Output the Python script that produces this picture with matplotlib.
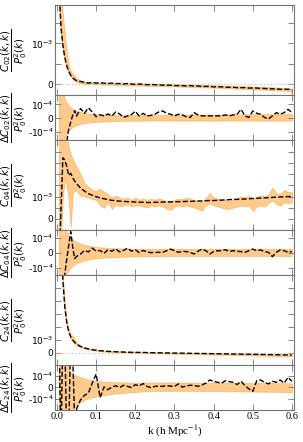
import numpy as np
import matplotlib
matplotlib.use('Agg')
import matplotlib.pyplot as plt

# k grid for the measured (dashed) curves and the noisy C04 band
k = [0.005, 0.01, 0.015, 0.02, 0.025, 0.03, 0.035, 0.04, 0.045, 0.05,
     0.06, 0.07, 0.08, 0.09, 0.10, 0.11, 0.12, 0.13, 0.14, 0.15,
     0.16, 0.17, 0.18, 0.19, 0.20, 0.21, 0.22, 0.23, 0.24, 0.25,
     0.26, 0.27, 0.28, 0.29, 0.30, 0.31, 0.32, 0.33, 0.34, 0.35,
     0.36, 0.37, 0.38, 0.39, 0.40, 0.41, 0.42, 0.43, 0.44, 0.45,
     0.46, 0.47, 0.48, 0.49, 0.50, 0.51, 0.52, 0.53, 0.54, 0.55,
     0.56, 0.57, 0.58, 0.59, 0.60]

# coarser k grid for the smooth prediction bands
kb = [0.005, 0.01, 0.015, 0.02, 0.025, 0.03, 0.035, 0.04, 0.045, 0.05,
      0.06, 0.07, 0.08, 0.09, 0.1, 0.12, 0.14, 0.16, 0.2, 0.25,
      0.3, 0.35, 0.4, 0.45, 0.5, 0.55, 0.6]

# ---- C02 (units 1e-3) ----
c02 = [2.4, 1.4, 0.95, 0.65, 0.45, 0.32, 0.22, 0.16, 0.12, 0.09,
       0.07, 0.05, 0.03, 0.05, 0.03, 0.04, 0.03, 0.02, 0.03, 0.02,
       0.02, 0.01, 0.02, 0.01, 0.0, 0.01, 0.0, -0.01, 0.0, -0.01,
       -0.01, -0.02, -0.02, -0.02, -0.03, -0.03, -0.03, -0.04, -0.03, -0.04,
       -0.04, -0.05, -0.05, -0.05, -0.06, -0.06, -0.06, -0.07, -0.07, -0.07,
       -0.08, -0.08, -0.08, -0.09, -0.09, -0.09, -0.1, -0.1, -0.11, -0.11,
       -0.11, -0.12, -0.12, -0.12, -0.13]
c02_lo = [2.0, 1.25, 0.85, 0.58, 0.4, 0.28, 0.19, 0.13, 0.09, 0.06,
          0.03, 0.02, 0.01, 0.005, 0.0, -0.01, -0.01, -0.02, -0.03, -0.04,
          -0.05, -0.07, -0.08, -0.1, -0.12, -0.14, -0.17]
c02_hi = [3.5, 2.4, 1.7, 1.2, 0.8, 0.45, 0.33, 0.26, 0.2, 0.15,
          0.1, 0.07, 0.055, 0.048, 0.04, 0.035, 0.03, 0.025, 0.02, 0.01,
          0.0, -0.01, -0.02, -0.04, -0.05, -0.07, -0.1]

# ---- Delta C02 (units 1e-4) ----
dc02 = [-6, -5, -4, -2.8, -1.7, -0.8, -0.3, 0.2, 0.55, 0.15,
        0.7, 0.35, 0.75, 0.45, 0.1, 0.25, 0.15, 0.3, 0.15, 0.45,
        0.3, 0.05, 0.15, 0.25, 0.5, 0.15, 0.35, 0.15, 0.2, 0.28,
        0.45, 0.52, 0.35, 0.28, 0.16, 0.28, 0.23, 0.1, 0.04, 0.4,
        0.23, 0.16, 0.16, 0.16, 0.16, 0.16, 0.16, 0.23, 0.16, 0.23,
        0.28, 0.64, 0.16, 0.04, 0.52, 0.35, 0.28, 0.04, -0.07, 0.16,
        0.4, 0.28, 0.4, 0.64, 0.4]
dc02_lo = [-6, -3, -2, -1.35, -1.15, -0.92, -0.78, -0.67, -0.58, -0.52,
           -0.44, -0.38, -0.34, -0.31, -0.28, -0.25, -0.23, -0.21, -0.2, -0.19,
           -0.19, -0.19, -0.19, -0.19, -0.19, -0.19, -0.19]
dc02_hi = [6, 3, 2, 1.35, 1.15, 0.92, 0.78, 0.67, 0.58, 0.52,
           0.44, 0.38, 0.34, 0.31, 0.28, 0.25, 0.23, 0.22, 0.22, 0.23,
           0.24, 0.25, 0.26, 0.27, 0.28, 0.29, 0.3]

# ---- C04 (units 1e-3) ----
c04 = [-2.0, 0.3, 2.75, 2.65, 2.35, 1.95, 2.05, 1.85, 1.7, 1.58,
       1.38, 1.25, 1.13, 1.06, 0.99, 0.94, 0.9, 0.86, 0.83, 0.81,
       0.79, 0.78, 0.77, 0.76, 0.75, 0.74, 0.74, 0.73, 0.73, 0.74,
       0.74, 0.75, 0.75, 0.76, 0.76, 0.77, 0.77, 0.78, 0.78, 0.79,
       0.8, 0.8, 0.81, 0.82, 0.82, 0.83, 0.84, 0.85, 0.86, 0.87,
       0.87, 0.88, 0.89, 0.9, 0.91, 0.92, 0.93, 0.94, 0.95, 0.96,
       0.97, 0.98, 0.99, 1.0, 1.0]
c04_lo = [-1, -1, 1.0, 1.8, 1.5, 0.8, -0.4, 1.1, 1.3, 1.25,
          1.05, 1.0, 0.95, 0.9, 0.85, 0.6, 0.5, 0.75, 0.45, 0.65,
          0.55, 0.6, 0.65, 0.55, 0.6, 0.6, 0.55, 0.5, 0.6, 0.55,
          0.6, 0.55, 0.45, 0.4, 0.55, 0.6, 0.55, 0.6, 0.55, 0.5,
          0.45, 0.35, 0.6, 0.7, 0.6, 0.55, 0.5, 0.45, 0.45, 0.5,
          0.55, 0.6, 0.55, 0.6, 0.35, 0.55, 0.6, 0.55, 0.7, 0.85,
          0.65, 0.6, 0.75, 0.7, 0.75]
c04_hi = [4.5, 4.5, 4.5, 4.2, 3.8, 3.2, 2.9, 2.7, 2.5, 2.35,
          2.0, 1.6, 1.45, 1.3, 1.25, 1.35, 1.2, 1.1, 0.95, 1.05,
          0.95, 0.9, 0.95, 0.85, 0.95, 0.85, 0.9, 0.85, 0.9, 0.85,
          0.92, 0.85, 0.8, 0.75, 0.85, 0.9, 0.88, 0.95, 0.9, 0.85,
          0.8, 0.75, 0.95, 1.15, 0.95, 0.9, 0.85, 0.85, 0.8, 0.85,
          0.95, 1.0, 0.95, 1.05, 0.9, 1.0, 1.05, 1.0, 1.1, 1.4,
          1.15, 1.1, 1.3, 1.2, 1.2]

# ---- Delta C04 (units 1e-4) ----
dc04 = [-3, -3, -2.5, -1.4, -0.4, 0.5, 1.4, 0.4, -0.4, -0.25,
        -0.1, 0.15, 0.05, 0.3, 0.1, 0.15, -0.05, 0.2, 0.1, 0.25,
        0.05, 0.15, 0.3, 0.1, 0.2, 0.0, 0.15, 0.05, 0.0, 0.02,
        0.02, 0.02, 0.13, 0.24, 0.13, 0.02, 0.09, 0.07, 0.02, -0.09,
        0.09, 0.24, 0.13, -0.09, 0.07, 0.13, 0.13, 0.2, 0.07, 0.13,
        0.09, 0.07, 0.02, 0.13, 0.24, 0.13, 0.18, 0.07, 0.02, -0.27,
        0.02, 0.18, 0.13, 0.02, 0.07]
dc04_lo = [-5, -4, -2.5, -1.8, -1.4, -1.15, -1.0, -0.88, -0.78, -0.7,
           -0.6, -0.52, -0.46, -0.42, -0.38, -0.33, -0.3, -0.28, -0.25, -0.23,
           -0.22, -0.22, -0.22, -0.22, -0.22, -0.22, -0.22]
dc04_hi = [5, 4, 2.5, 1.8, 1.4, 1.15, 1.0, 0.88, 0.78, 0.7,
           0.6, 0.52, 0.46, 0.42, 0.38, 0.33, 0.3, 0.28, 0.26, 0.25,
           0.25, 0.25, 0.25, 0.25, 0.25, 0.25, 0.25]

# ---- C24 (units 1e-3) ----
c24 = [14, 9, 5.6, 3.5, 2.3, 1.65, 1.25, 1.0, 0.82, 0.68,
       0.5, 0.39, 0.31, 0.25, 0.21, 0.17, 0.15, 0.12, 0.11, 0.09,
       0.08, 0.07, 0.06, 0.05, 0.05, 0.04, 0.04, 0.03, 0.02, 0.02,
       0.01, 0.01, 0.0, 0.0, -0.01, -0.01, -0.02, -0.02, -0.03, -0.03,
       -0.04, -0.04, -0.05, -0.05, -0.06, -0.06, -0.07, -0.07, -0.08, -0.08,
       -0.09, -0.09, -0.1, -0.1, -0.11, -0.11, -0.12, -0.12, -0.13, -0.13,
       -0.14, -0.14, -0.15, -0.15, -0.16]
c24_lo = [12, 8, 5.2, 3.25, 2.15, 1.5, 1.12, 0.9, 0.72, 0.6,
          0.44, 0.33, 0.26, 0.21, 0.17, 0.11, 0.07, 0.05, 0.01, -0.03,
          -0.06, -0.09, -0.12, -0.15, -0.19, -0.23, -0.27]
c24_hi = [16, 10, 6.0, 3.75, 2.5, 1.8, 1.4, 1.35, 1.1, 0.78,
          0.58, 0.45, 0.36, 0.3, 0.25, 0.19, 0.15, 0.12, 0.08, 0.04,
          0.01, -0.01, -0.03, -0.05, -0.07, -0.1, -0.12]

# ---- Delta C24 (units 1e-4) ----
dc24 = [5, -5, 5, 4, -5, -4, 5, 3, -3, -1.9,
        -1.1, -0.7, -0.5, 0.4, 1.2, -0.9, 0.05, -0.2, 0.05, 0.15,
        0.0, 0.2, 0.1, 0.0, 0.25, 0.15, 0.35, 0.1, -0.02, 0.1,
        0.12, 0.1, 0.17, 0.12, 0.1, 0.32, 0.03, 0.14, 0.2, 0.17,
        0.1, 0.23, 0.38, 0.67, 0.55, 0.46, 0.38, 0.6, 0.52, 0.46,
        0.26, 0.55, 0.17, -0.12, -0.35, 0.6, 0.67, 0.46, 0.32, 0.55,
        0.46, 0.67, 0.38, 0.9, 0.55]
dc24_lo = [-6, -6, -5, -4, -3.2, -2.6, -2.2, -1.95, -1.75, -1.55,
           -1.3, -1.1, -0.98, -0.88, -0.8, -0.68, -0.58, -0.5, -0.4, -0.3,
           -0.3, -0.3, -0.32, -0.34, -0.36, -0.38, -0.4]
dc24_hi = [6, 6, 5, 4, 2.5, 1.6, 1.35, 1.2, 1.12, 1.04,
           0.92, 0.8, 0.7, 0.62, 0.58, 0.52, 0.48, 0.46, 0.42, 0.45,
           0.44, 0.43, 0.42, 0.41, 0.40, 0.39, 0.38]

band_col = 'darkorange'
axis_col = '0.45'

fig = plt.figure(figsize=(3.03, 4.42), dpi=100)
gs = fig.add_gridspec(6, 1, height_ratios=[2, 1, 2, 1, 2, 1], hspace=0,
                      left=0.183, right=0.970, top=0.9887, bottom=0.0724)
axes = [fig.add_subplot(gs[i]) for i in range(6)]

panels = [
    (c02, c02_lo, c02_hi, kb, 1e-3, (-0.26, 1.94), [0, 0.5, 1.0, 1.5],
     ['0', '', r'$10^{-3}$', ''], r'$\dfrac{C_{02}(k,k)}{P_0^2(k)}$', True),
    (dc02, dc02_lo, dc02_hi, kb, 1e-4, (-1.62, 1.7), [-1, 0, 1],
     [r'-$10^{-4}$', '0', r'$10^{-4}$'], r'$\dfrac{\Delta C_{02}(k,k)}{P_0^2(k)}$', False),
    (c04, c04_lo, c04_hi, k, 1e-3, (-0.51, 3.55), [0, 0.5, 1.0, 1.5, 2.0, 2.5, 3.0],
     ['0', '', r'$10^{-3}$', '', '', '', ''], r'$\dfrac{C_{04}(k,k)}{P_0^2(k)}$', False),
    (dc04, dc04_lo, dc04_hi, kb, 1e-4, (-1.49, 1.51), [-1, 0, 1],
     [r'-$10^{-4}$', '0', r'$10^{-4}$'], r'$\dfrac{\Delta C_{04}(k,k)}{P_0^2(k)}$', False),
    (c24, c24_lo, c24_hi, kb, 1e-3, (-0.93, 6.02), [0, 1, 2, 3, 4, 5],
     ['0', r'$10^{-3}$', '', '', '', ''], r'$\dfrac{C_{24}(k,k)}{P_0^2(k)}$', True),
    (dc24, dc24_lo, dc24_hi, kb, 1e-4, (-2.0, 2.0), [-1, 0, 1],
     [r'-$10^{-4}$', '0', r'$10^{-4}$'], r'$\dfrac{\Delta C_{24}(k,k)}{P_0^2(k)}$', False),
]

for ax, (line, lo, hi, kband, unit, ylim, yt, ytl, ylab, zero) in zip(axes, panels):
    ax.fill_between(kband, np.array(lo) * unit, np.array(hi) * unit,
                    color=band_col, alpha=0.45, lw=0.6)
    if zero:
        ax.axhline(0, color='0.75', ls=':', lw=0.9)
    ax.plot(k, np.array(line) * unit, 'k--', lw=1.0)
    ax.set_xlim(-0.004, 0.605)
    ax.set_ylim(ylim[0] * unit, ylim[1] * unit)
    ax.set_yticks(np.array(yt) * unit)
    ax.set_yticklabels(ytl)
    ax.set_xticks([0.0, 0.1, 0.2, 0.3, 0.4, 0.5, 0.6])
    ax.tick_params(direction='in', top=True, right=True, length=4, width=0.6,
                   color=axis_col, labelsize=6.5, pad=1.5)
    for s in ax.spines.values():
        s.set_color(axis_col)
        s.set_linewidth(0.8)
    ax.set_ylabel(ylab, fontsize=7.3)
    ax.yaxis.set_label_coords(-0.112, 0.5)
    if ax is not axes[-1]:
        ax.tick_params(labelbottom=False)

axes[-1].set_xticklabels(['0.0', '0.1', '0.2', '0.3', '0.4', '0.5', '0.6'],
                         family='Liberation Serif', fontsize=7.5)
axes[-1].set_xlabel('k (h Mpc$^{-1}$)', family='Liberation Serif',
                    math_fontfamily='stix', fontsize=8, labelpad=2)

fig.savefig('out.png', dpi=100)
